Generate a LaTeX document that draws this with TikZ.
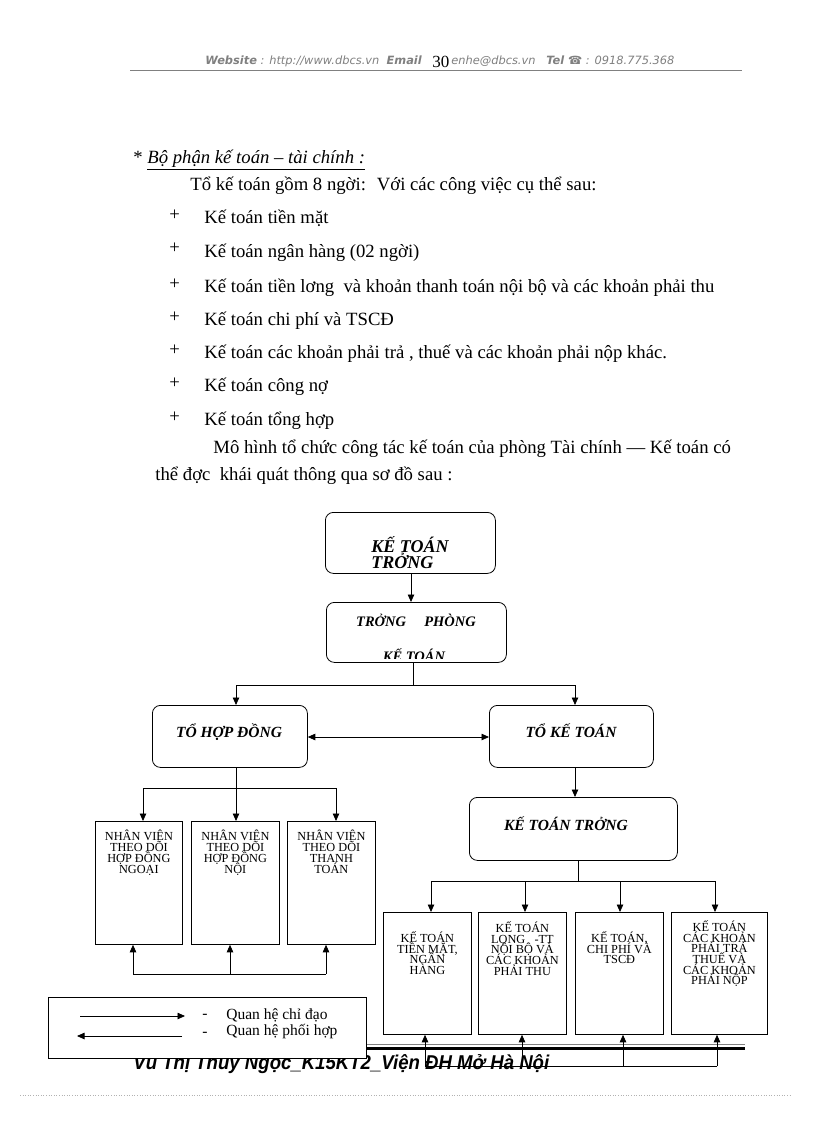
\documentclass[tikz,border=0pt]{standalone}
\usepackage{fontspec}
\setmainfont{Liberation Serif}
\newfontfamily\hdrfont{DejaVu Sans}
\newfontfamily\ftrfont{Liberation Sans}
\usetikzlibrary{arrows.meta}
\newcommand\tightlines{\lineskiplimit=-30pt\relax\lineskip=0pt\relax}
\begin{document}
\begin{tikzpicture}[x=1pt,y=-1pt,
  arr/.style={-{Triangle[length=7.5pt,width=6.5pt]}},
  dbl/.style={{Triangle[length=7.5pt,width=6.5pt]}-{Triangle[length=7.5pt,width=6.5pt]}},
  rbox/.style={draw, rounded corners=8pt, inner sep=0pt, anchor=north west, line width=0.8pt},
  sbox/.style={draw, inner sep=0pt, anchor=north west, line width=0.8pt},
  body/.style={anchor=base west, inner sep=0pt, font=\fontsize{18.7}{22}\selectfont},
  bi/.style={inner sep=0pt, font=\fontsize{15.5}{15}\selectfont\bfseries\itshape},
  captext/.style={inner sep=0pt, anchor=north, align=center, font=\fontsize{12.3}{10.7}\selectfont\tightlines},
  leg/.style={anchor=base west, inner sep=0pt, font=\fontsize{15.5}{15}\selectfont},
  hdrtext/.style={anchor=base west, inner sep=0pt, text=gray, font=\hdrfont\fontsize{11.4}{12}\selectfont},
  line width=0.8pt
]
\useasboundingbox[fill=white] (0,0) rectangle (816,1123);

% header
\node[hdrtext] (hdr1) at (205,65)
  {\textbf{\textit{Website}}\textit{ : http://www.dbcs.vn \ }\textbf{\textit{Email}}};
\node[anchor=base west, inner sep=0pt, font=\fontsize{17}{17}\selectfont] (pg) at (432,68) {30};
\node[hdrtext] (hdr2) at (451,65)
  {\textit{enhe@dbcs.vn \ \ }\textbf{\textit{Tel}}\textit{ ☎ : 0918.775.368}};
\draw[gray, line width=0.8pt] (130,70) -- (742,70);

% body text
\node[body] (t0) at (133,164) {* \textit{\underline{Bộ phận kế toán – tài chính :}}};
\node[body] (t1) at (190,191) {Tổ kế toán gồm 8 ngời: \ Với các công việc cụ thể sau:};
\foreach \yy/\tx [count=\i] in {224/Kế toán tiền mặt, 257/Kế toán ngân hàng (02 ngời),
  292/Kế toán tiền lơng \ và khoản thanh toán nội bộ và các khoản phải thu,
  325/Kế toán chi phí và TSCĐ,
  358/{Kế toán các khoản phải trả , thuế và các khoản phải nộp khác.},
  391/Kế toán công nợ, 425/Kế toán tổng hợp}{
  \node[body] (p\i) at (169,\yy-3) {+};
  \node[body] (b\i) at (204,\yy) {\tx};
}
\node[body] (t2) at (213,453) {Mô hình tổ chức công tác kế toán của phòng Tài chính — Kế toán có};
\node[body] (t3) at (155,480) {thể đợc \ khái quát thông qua sơ đồ sau :};

% top boxes
\node[rbox, minimum width=170pt, minimum height=61pt] (ktt) at (325,512) {};
\node[anchor=base west, inner sep=0pt, align=left, font=\fontsize{18}{16}\selectfont\bfseries\itshape] (kttt) at (371,568) {KẾ TOÁN\\TRỞNG};
\node[rbox, minimum width=180pt, minimum height=60pt] (tp) at (326,602) {};
\node[bi, anchor=base, font=\fontsize{14.5}{14}\selectfont\bfseries\itshape] (tpt) at (416,626) {TRỞNG \ \ \ \ PHÒNG};
\begin{scope}
\clip (326,640) rectangle (506,658.5);
\node[bi, anchor=base, font=\fontsize{14.5}{14}\selectfont\bfseries\itshape] (tpt2) at (414,661) {KẾ TOÁN};
\end{scope}
\draw[arr] (411,573) -- (411,602);

% level 2
\node[rbox, minimum width=155pt, minimum height=62pt] (thd) at (152,705) {};
\node[bi, anchor=base] (thdt) at (229,737) {TỔ HỢP ĐỒNG};
\node[rbox, minimum width=164pt, minimum height=62pt] (tkt) at (489,705) {};
\node[bi, anchor=base] (tktt) at (571,737) {TỔ KẾ TOÁN};
\coordinate (j1) at (413,685);
\draw (tp.south -| j1) -- (j1);
\coordinate (a1) at (236,685);
\coordinate (a2) at (575,685);
\draw (a1) -- (a2);
\draw[arr] (a1) -- (a1 |- thd.north);
\draw[arr] (a2) -- (a2 |- tkt.north);
\draw[dbl] (thd.east |- 0,737) -- (tkt.west |- 0,737);

% left group
\node[sbox, minimum width=87pt, minimum height=123pt] (n1) at (95,821) {};
\node[sbox, minimum width=88pt, minimum height=123pt] (n2) at (191,821) {};
\node[sbox, minimum width=88pt, minimum height=123pt] (n3) at (287,821) {};
\node[captext] (n1t) at (n1.north |- 0,830) {NHÂN VIÊN\\THEO DÕI\\HỢP ĐỒNG\\NGOẠI};
\node[captext] (n2t) at (n2.north |- 0,830) {NHÂN VIÊN\\THEO DÕI\\HỢP ĐỒNG\\NỘI};
\node[captext] (n3t) at (n3.north |- 0,830) {NHÂN VIÊN\\THEO DÕI\\THANH\\TOÁN};
\coordinate (j2) at (236,788);
\draw (thd.south -| j2) -- (j2);
\coordinate (c1) at (143,788);
\coordinate (c2) at (236,788);
\coordinate (c3) at (336,788);
\draw (c1) -- (c3);
\draw[arr] (c1) -- (c1 |- n1.north);
\draw[arr] (c2) -- (c2 |- n2.north);
\draw[arr] (c3) -- (c3 |- n3.north);
\coordinate (d1) at (133,974);
\coordinate (d2) at (230,974);
\coordinate (d3) at (326,974);
\draw (d1) -- (d3);
\draw[arr] (d1) -- (d1 |- n1.south);
\draw[arr] (d2) -- (d2 |- n2.south);
\draw[arr] (d3) -- (d3 |- n3.south);

% right group
\draw[arr] (575,767) -- (575,797);
\node[rbox, minimum width=208pt, minimum height=63pt] (ktt2) at (469,797) {};
\node[bi, anchor=base] (ktt2t) at (566,830) {KẾ TOÁN TRỞNG};
\coordinate (j3) at (578,881);
\draw (ktt2.south -| j3) -- (j3);
\coordinate (e1) at (431,881);
\coordinate (e2) at (525,881);
\coordinate (e3) at (620,881);
\coordinate (e4) at (715,881);
\draw (e1) -- (e4);
\node[sbox, minimum width=88pt, minimum height=122pt] (k1) at (383,912) {};
\node[sbox, minimum width=88pt, minimum height=122pt] (k2) at (478,912) {};
\node[sbox, minimum width=88pt, minimum height=122pt] (k3) at (575,912) {};
\node[sbox, minimum width=96pt, minimum height=122pt] (k4) at (671,912) {};
\draw[arr] (e1) -- (e1 |- k1.north);
\draw[arr] (e2) -- (e2 |- k2.north);
\draw[arr] (e3) -- (e3 |- k3.north);
\draw[arr] (e4) -- (e4 |- k4.north);
\node[captext] (k1t) at (k1.north |- 0,931) {KẾ TOÁN\\TIỀN MẶT,\\NGÂN\\HÀNG};
\node[captext] (k2t) at (k2.north |- 0,921) {KẾ TOÁN\\LỌNG \ \ -TT\\NỘI BỘ VÀ\\CÁC KHOẢN\\PHẢI THU};
\node[captext] (k3t) at (k3.north |- 0,931) {KẾ TOÁN,\\CHI PHÍ VÀ\\TSCĐ};
\node[captext] (k4t) at (k4.north |- 0,920) {KẾ TOÁN\\CÁC KHOẢN\\PHẢI TRẢ\\THUẾ VÀ\\CÁC KHOẢN\\PHẢI NỘP};

% footer
\draw[gray, line width=1.5pt] (130,1044.5) -- (745,1044.5);
\draw[black, line width=2.5pt] (130,1048.5) -- (745,1048.5);
\node[anchor=base west, inner sep=0pt, xscale=0.93, font=\ftrfont\fontsize{20}{20}\selectfont\bfseries\itshape] (ftr) at (133,1069)
  {Vũ Thị Thuỳ Ngọc\_K15KT2\_Viện ĐH Mở Hà Nội};
\coordinate (f1) at (425,1066);
\coordinate (f2) at (522,1066);
\coordinate (f3) at (623,1066);
\coordinate (f4) at (717,1066);
\draw (f1) -- (f4);
\draw[arr] (f1) -- (f1 |- k1.south);
\draw[arr] (f2) -- (f2 |- k2.south);
\draw[arr] (f3) -- (f3 |- k3.south);
\draw[arr] (f4) -- (f4 |- k4.south);

% legend
\node[draw, fill=white, inner sep=0pt, anchor=north west, minimum width=318pt, minimum height=61pt] (lg) at (48,997) {};
\coordinate (l1a) at (80,1016);
\coordinate (l1b) at (185,1016);
\coordinate (l2a) at (182,1036);
\coordinate (l2b) at (77,1036);
\draw[arr] (l1a) -- (l1b);
\draw[arr] (l2a) -- (l2b);
\node[leg] (lm1) at (202,1018) {-};
\node[leg] (lm2) at (202,1036) {-};
\node[leg] (lt1) at (226,1019) {Quan hệ chỉ đạo};
\node[leg] (lt2) at (226,1035) {Quan hệ phối hợp};

% dotted page edge
\draw[gray!60, dotted, line width=0.6pt] (20,1095) -- (790,1095);
\end{tikzpicture}
\end{document}
